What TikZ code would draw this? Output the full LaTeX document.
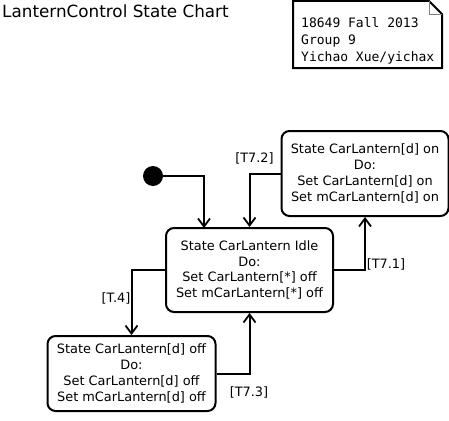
\documentclass[tikz,border=0pt]{standalone}
\usepackage{fontspec}
\setmainfont{DejaVu Sans}
\newfontfamily\notefont{DejaVu Sans Mono}
\usetikzlibrary{arrows.meta}
\begin{document}
\begin{tikzpicture}[x=1pt,y=1pt,
  statebox/.style={draw,line width=2pt,rounded corners=8pt,align=center,inner sep=0pt,
    font=\fontsize{12.9}{15.8}\selectfont},
  conn/.style={line width=2pt,-{Straight Barb[length=8pt,width=12pt,line width=1.8pt]}},
  lbl/.style={font=\fontsize{12.9}{14}\selectfont,inner sep=0pt}]
\useasboundingbox (0,0) rectangle (449,-420);
% title
\node[anchor=base west,inner sep=0pt,font=\fontsize{16.8}{18}\selectfont] (title) at (2,-18) {LanternControl State Chart};
% note
\draw[line width=2pt] (293,-1) -- (429,-1) -- (442,-14) -- (442,-68) -- (293,-68) -- cycle;
\draw[line width=0.8pt,gray] (429,-1) -- (429,-14) -- (442,-14);
\node[anchor=north west,inner sep=0pt,align=left,font=\notefont\fontsize{13}{16.7}\selectfont] (note) at (301,-17.5) {18649 Fall 2013\\Group 9\\Yichao Xue/yichax};
% initial
\node[circle,fill=black,minimum size=20pt,inner sep=0pt] (init) at (153,-176) {};
% states
\node[statebox,minimum width=167pt,minimum height=84pt] (idle) at (249.5,-270) {State CarLantern Idle\\Do:\\Set CarLantern[*] off\\Set mCarLantern[*] off};
\node[statebox,minimum width=167pt,minimum height=85pt] (on) at (365,-173.5) {State CarLantern[d] on\\Do:\\Set CarLantern[d] on\\Set mCarLantern[d] on};
\node[statebox,minimum width=168pt,minimum height=75pt] (off) at (131.5,-373.5) {State CarLantern[d] off\\Do:\\Set CarLantern[d] off\\Set mCarLantern[d] off};
\coordinate (ientry) at (204,-228);
% connectors
\draw[conn] (init.east) -| (ientry);
\draw[conn] (on.west) -| (idle.north);
\draw[conn] (idle.east) -| (on.south);
\draw[conn] (idle.west) -| (off.north);
\draw[conn] (off.east) -| (idle.south);
% labels
\node[lbl] (l72) at (254.5,-158) {[T7.2]};
\node[lbl] (l71) at (386,-264) {[T7.1]};
\node[lbl] (l4) at (116,-298) {[T.4]};
\node[lbl] (l73) at (249,-392) {[T7.3]};
\end{tikzpicture}
\end{document}
